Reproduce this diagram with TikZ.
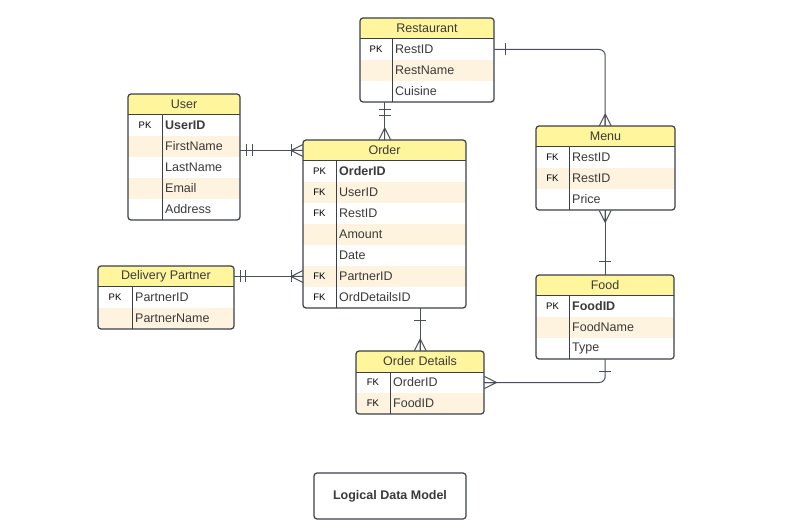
\documentclass[tikz,border=0pt]{standalone}
\usepackage{fontspec}
\setmainfont{Liberation Sans}
\usetikzlibrary{calc}
\definecolor{hdrc}{HTML}{FFF59D}
\definecolor{rowc}{HTML}{FEF3DE}
\definecolor{bordc}{HTML}{3B3F47}
\definecolor{txtc}{HTML}{3A3A3A}
\definecolor{connc}{HTML}{4A4F5A}
\tikzset{
  frame/.style={draw=bordc, line width=1.2pt, rounded corners=3pt},
  innerline/.style={draw=bordc, line width=1pt},
  fieldtxt/.style={anchor=west, inner sep=0pt, text=txtc, font=\fontsize{12.5}{14}\selectfont},
  keytxt/.style={inner sep=0pt, text=black, font=\fontsize{9.5}{11}\selectfont},
  titletxt/.style={inner sep=0pt, text=txtc, font=\fontsize{12.5}{14}\selectfont},
  conn/.style={draw=connc, line width=1pt},
  labelbox/.style={draw=bordc, line width=1.2pt, rounded corners=3pt, text=txtc,
    font=\fontsize{12.5}{14}\selectfont\bfseries},
}
% #1 name, #2 x, #3 y, #4 width, #5 key column width, #6 rows, #7 title, #8 rows list
\newcommand{\ertable}[8]{%
  \pgfmathsetmacro\eh{21*(#6+1)}%
  \begin{scope}
    \clip[rounded corners=3pt] (#2,#3) rectangle ++(#4,\eh);
    \fill[white] (#2,#3) rectangle ++(#4,\eh);
    \fill[hdrc] (#2,#3) rectangle ++(#4,21);
    \foreach \k/\f [count=\i] in {#8} {\ifodd\i\else\fill[rowc] (#2,#3+21*\i) rectangle ++(#4,21);\fi}
  \end{scope}
  \node[minimum width=#4 pt, minimum height=\eh pt, inner sep=0pt, anchor=north west] (#1) at (#2,#3) {};
  \draw[innerline] (#2,#3+21) -- ++(#4,0);
  \draw[innerline] (#2+#5,#3+21) -- (#2+#5,#3+\eh);
  \draw[frame] (#2,#3) rectangle ++(#4,\eh);
  \node[titletxt] (#1-t) at (#2+#4/2,#3+10.5) {#7};
  \foreach \k/\f [count=\i] in {#8} {
    \node[keytxt] (#1-k\i) at (#2+#5/2,#3+21*\i+10.5) {\k};
    \node[fieldtxt] (#1-f\i) at (#2+#5+3,#3+21*\i+10.5) {\f};
  }
}
% crow's foot: #1 coordinate on the box edge, (#2,#3) outward direction
\newcommand{\ercrow}[3]{%
  \draw[conn] ($(#1)+12*(#2,#3)$) -- ($(#1)+6*({0-(#3)},#2)$)
              ($(#1)+12*(#2,#3)$) -- (#1)
              ($(#1)+12*(#2,#3)$) -- ($(#1)-6*({0-(#3)},#2)$);}
% bar: #1 coordinate, (#2,#3) direction, #4 distance
\newcommand{\erbar}[4]{%
  \draw[conn] ($(#1)+#4*(#2,#3)+6*({0-(#3)},#2)$) -- ($(#1)+#4*(#2,#3)-6*({0-(#3)},#2)$);}

\begin{document}
\begin{tikzpicture}[x=1pt,y=-1pt]
\useasboundingbox (0,0) rectangle (790,529);
\fill[white] (0,0) rectangle (790,529);

\ertable{rest}{360}{18}{134}{32}{3}{Restaurant}{PK/RestID, /RestName, /Cuisine}
\ertable{user}{128}{94}{112}{34}{5}{User}{PK/\textbf{UserID}, /FirstName, /LastName, /Email, /Address}
\ertable{order}{303}{140}{163}{33}{7}{Order}{PK/\textbf{OrderID}, FK/UserID, FK/RestID, /Amount, /Date, FK/PartnerID, FK/OrdDetailsID}
\ertable{menu}{536}{126}{139}{33}{3}{Menu}{FK/RestID, FK/RestID, /Price}
\ertable{dp}{98}{266}{136}{34}{2}{Delivery Partner}{PK/PartnerID, /PartnerName}
\ertable{food}{536}{275}{138}{33}{3}{Food}{PK/\textbf{FoodID}, /FoodName, /Type}
\ertable{od}{356}{351}{128}{34}{2}{Order Details}{FK/OrderID, FK/FoodID}

\node[labelbox, minimum width=152pt, minimum height=46pt] (ldm) at (390,496) {Logical Data Model};

% User - Order
\coordinate (uo1) at (user.east |- order-t);
\coordinate (uo2) at (order.west |- order-t);
\draw[conn] (uo1) -- (uo2);
\erbar{uo1}{1}{0}{6} \erbar{uo1}{1}{0}{12}
\ercrow{uo2}{-1}{0} \erbar{uo2}{-1}{0}{12}

% Delivery Partner - Order
\coordinate (do1) at (dp.east |- dp-t);
\coordinate (do2) at (order.west |- dp-t);
\draw[conn] (do1) -- (do2);
\erbar{do1}{1}{0}{6} \erbar{do1}{1}{0}{11}
\ercrow{do2}{-1}{0} \erbar{do2}{-1}{0}{12}

% Restaurant - Order
\coordinate (ro1) at (rest.south -| order.north);
\coordinate (ro2) at (order.north);
\draw[conn] (ro1) -- (ro2);
\erbar{ro1}{0}{1}{7} \erbar{ro1}{0}{1}{13}
\ercrow{ro2}{0}{-1}

% Restaurant - Menu
\coordinate (rm1) at (rest.east |- rest-f1);
\coordinate (rm2) at (menu.north -| food.north);
\draw[conn, rounded corners=6pt] (rm1) -| (rm2);
\erbar{rm1}{1}{0}{11}
\ercrow{rm2}{0}{-1}

% Menu - Food
\coordinate (mf1) at (menu.south -| food.north);
\coordinate (mf2) at (food.north);
\draw[conn] (mf1) -- (mf2);
\ercrow{mf1}{0}{1}
\erbar{mf2}{0}{-1}{13}

% Order - Order Details
\coordinate (oo1) at (order.south -| od.north);
\coordinate (oo2) at (od.north);
\draw[conn] (oo1) -- (oo2);
\erbar{oo1}{0}{1}{12}
\ercrow{oo2}{0}{-1}

% Food - Order Details
\coordinate (fo1) at (food.south);
\coordinate (fo2) at (od.east |- od-f1);
\draw[conn, rounded corners=6pt] (fo1) |- (fo2);
\erbar{fo1}{0}{1}{12}
\ercrow{fo2}{1}{0}
\end{tikzpicture}
\end{document}
